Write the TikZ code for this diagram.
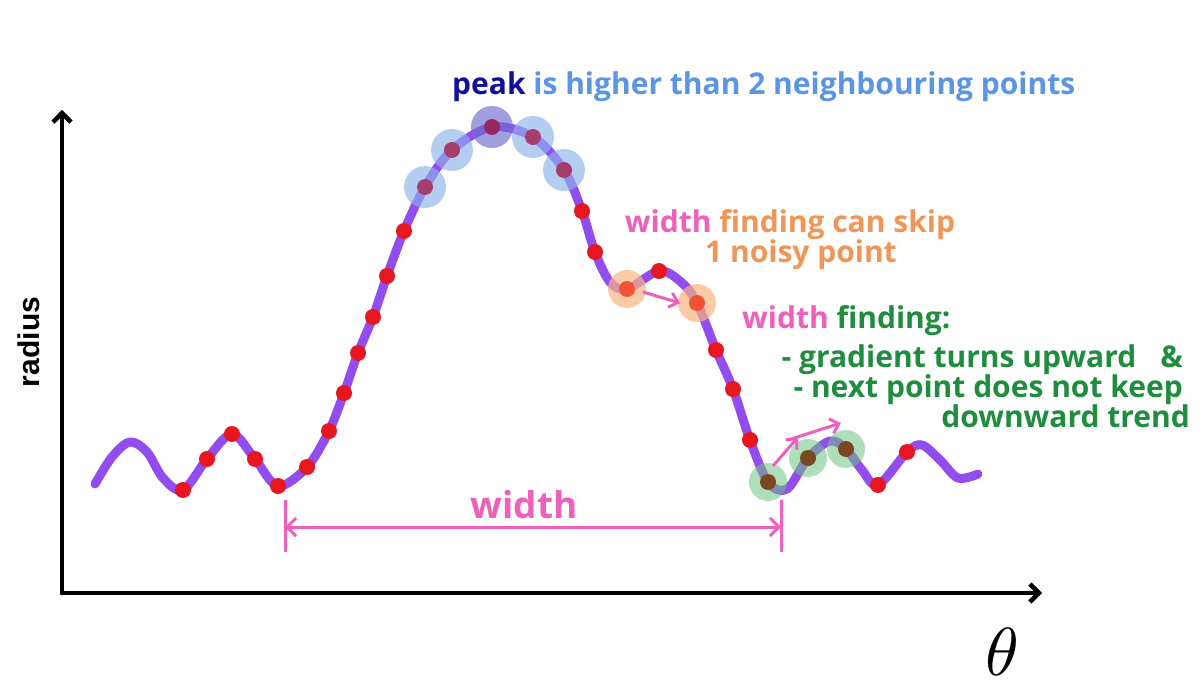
\documentclass[tikz,border=0pt]{standalone}
\usepackage{fontspec}
\setmainfont{Open Sans}
\newfontfamily\labelfont{Liberation Sans}
\usetikzlibrary{arrows.meta}
\definecolor{curvepurple}{RGB}{146,76,240}
\definecolor{dotred}{RGB}{232,22,30}
\definecolor{dotmaroon}{RGB}{165,62,108}
\definecolor{dotpeak}{RGB}{150,40,95}
\definecolor{dotorange}{RGB}{240,84,50}
\definecolor{bubbleblue}{RGB}{140,180,236}
\definecolor{bubblepeak}{RGB}{110,110,210}
\definecolor{bubbleorange}{RGB}{250,180,130}
\definecolor{bubblegreen}{RGB}{110,195,130}
\definecolor{dotbrown}{RGB}{122,72,32}
\definecolor{pinktxt}{RGB}{238,96,186}
\definecolor{orangetxt}{RGB}{240,150,88}
\definecolor{greentxt}{RGB}{30,142,62}
\definecolor{peakblue}{RGB}{16,16,160}
\definecolor{lightbluetxt}{RGB}{90,150,228}
\tikzset{
  axisline/.style={line width=4.5pt, black, line cap=round, -{Straight Barb[length=9pt,width=18pt,line width=4.5pt]}},
  pinkarrow/.style={line width=3pt, pinktxt, -{Straight Barb[length=8pt,width=15pt,line width=3pt]}},
  pinkbar/.style={line width=3pt, pinktxt},
  curveline/.style={line width=9pt, curvepurple, line cap=round, line join=round},
  reddot/.style={fill=dotred},
  bluebub/.style={fill=bubbleblue, fill opacity=0.65},
  peakbub/.style={fill=bubblepeak, fill opacity=0.65},
  orangebub/.style={fill=bubbleorange, fill opacity=0.7},
  greenbub/.style={fill=bubblegreen, fill opacity=0.55},
  txt/.style={inner sep=0pt, font=\fontsize{30}{30}\selectfont\bfseries},
}
\begin{document}
\begin{tikzpicture}[x=1pt,y=-1pt]
\useasboundingbox (0,0) rectangle (1200,690);
\fill[white] (0,0) rectangle (1200,690);

% axes
\coordinate (O) at (62,593);
\coordinate (Ytop) at (62,110);
\coordinate (Xend) at (1042,593);
\draw[axisline] (O) -- (Ytop);
\draw[axisline] (O) -- (Xend);
\node[rotate=90, inner sep=0pt, font=\labelfont\fontsize{30}{30}\selectfont\bfseries] (rad) at (29,342) {radius};
\node[inner sep=0pt, scale=6.8] (theta) at (1002,652) {$\theta$};

% curve
\draw[curveline] plot[smooth, tension=0.55] coordinates {
(95,484) (112,457) (130,442) (147,452) (163,478) (183,490) (207,459) (232,434)
(255,459) (278,486) (307,467) (329,431) (344,393) (358,353) (373,317) (387,276)
(404,231) (425,187) (452,150) (492,127) (533,137) (564,170) (582,211) (595,252)
(610,282) (627,289) (659,271) (681,282) (697,303) (716,350) (733,389) (750,440)
(768,482) (787,489) (808,458) (830,441) (846,449) (862,470) (878,485) (907,452)
(922,445) (940,460) (958,478) (978,474)};

% red dots
\foreach \p in {(183,490),(207,459),(232,434),(255,459),(278,486),(307,467),(329,431),
  (344,393),(358,353),(373,317),(387,276),(404,231),
  (582,211),(595,252),(659,271),(716,350),
  (733,389),(750,440),(878,485),(907,452)}
  \fill[reddot] \p circle (8);

% bubbles with their points
\foreach \p in {(425,187),(452,150),(533,137),(564,170)}
  \fill[bluebub] \p circle (21);
\fill[peakbub] (492,127) circle (21);
\foreach \p in {(425,187),(452,150),(533,137),(564,170)}
  \fill[dotmaroon] \p circle (8);
\fill[dotpeak] (492,127) circle (8);
\foreach \p in {(627,289),(697,303)}
  \fill[orangebub] \p circle (19);
\foreach \p in {(627,289),(697,303)}
  \fill[dotorange] \p circle (8);
\foreach \p in {(768,482),(808,458),(846,449)}
  \fill[greenbub] \p circle (19);
\foreach \p in {(768,482),(808,458),(846,449)}
  \fill[dotbrown] \p circle (8);

% pink arrows
\coordinate (oa1) at (643,292);
\coordinate (oa2) at (680,303);
\draw[pinkarrow] (oa1) -- (oa2);
\coordinate (ga1) at (773,466);
\coordinate (ga2) at (798,437);
\draw[pinkarrow] (ga1) -- (ga2);
\coordinate (gb1) at (788,440);
\coordinate (gb2) at (841,423);
\draw[pinkarrow] (gb1) -- (gb2);

% width bar
\coordinate (wl1) at (285,500); \coordinate (wl2) at (285,552);
\coordinate (wr1) at (781,500); \coordinate (wr2) at (781,552);
\coordinate (wl) at (285,527); \coordinate (wr) at (781,527);
\draw[pinkbar] (wl1) -- (wl2);
\draw[pinkbar] (wr1) -- (wr2);
\draw[pinkbar, {Straight Barb[length=9pt,width=18pt,line width=3pt]}-{Straight Barb[length=9pt,width=18pt,line width=3pt]}] (wl) -- (wr);
\node[inner sep=0pt, anchor=base, text=pinktxt, font=\fontsize{37}{37}\selectfont\bfseries] (wtxt) at (524,518) {width};

% texts
\node[txt, anchor=base west] (peak) at (452,95) {\textcolor{peakblue}{peak} \textcolor{lightbluetxt}{is higher than 2 neighbouring points}};
\node[txt, anchor=base] (skip1) at (790,232) {\textcolor{pinktxt}{width} \textcolor{orangetxt}{finding can skip}};
\node[txt, anchor=base, text=orangetxt] (skip2) at (801,262) {1 noisy point};
\node[txt, anchor=base west] (wf) at (742,328) {\textcolor{pinktxt}{width} \textcolor{greentxt}{finding:}};
\node[txt, anchor=base east, text=greentxt] (g1) at (1183,367) {- gradient turns upward\hspace{0.8em}\&};
\node[txt, anchor=base east, text=greentxt] (g2) at (1183,397) {- next point does not keep};
\node[txt, anchor=base east, text=greentxt] (g3) at (1190,427) {downward trend};
\end{tikzpicture}
\end{document}
